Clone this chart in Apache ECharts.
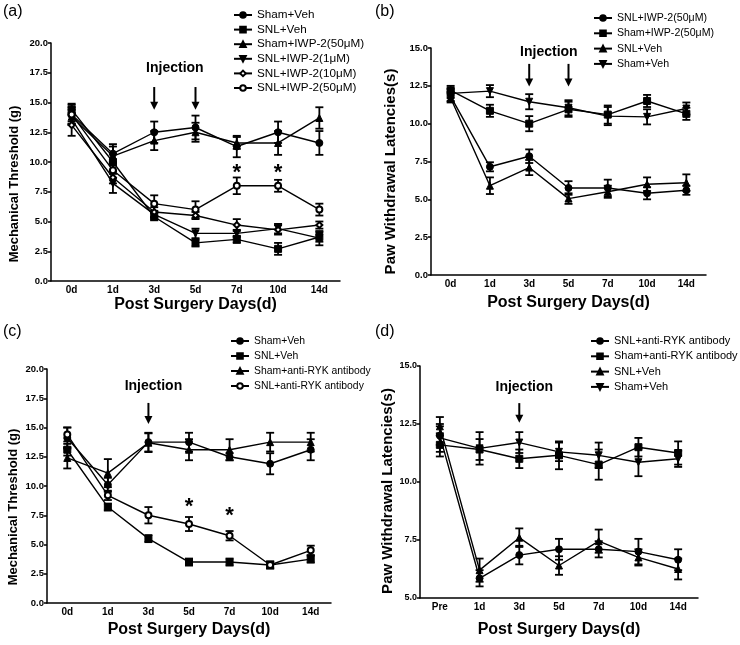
<!DOCTYPE html>
<html><head><meta charset="utf-8">
<script src="https://cdn.jsdelivr.net/npm/echarts@6/dist/echarts.min.js"></script>
<style>html,body{margin:0;padding:0;background:#fff}#c{width:740px;height:645px}</style>
</head><body><div id="c"></div>
<script>
// ---------- categories ----------
const daysAB = ['0d','1d','3d','5d','7d','10d','14d'];
const daysC  = ['0d','1d','3d','5d','7d','10d','14d'];
const daysD  = ['Pre','1d','3d','5d','7d','10d','14d'];
// ---------- panel (a) : Mechanical Threshold (g) ----------
const a_shamVeh      = [14.0,10.7,12.5,12.9,11.3,12.5,11.6];
const a_shamVeh_e    = [0.8,0.8,0.9,1.0,0.9,0.9,1.0];
const a_snlVeh       = [14.4,10.0,5.4,3.2,3.5,2.7,3.7];
const a_snlVeh_e     = [0.5,0.7,0.3,0.3,0.3,0.5,0.4];
const a_shamIwp50    = [13.8,10.5,11.8,12.5,11.6,11.6,13.7];
const a_shamIwp50_e  = [0.6,0.8,0.8,0.8,0.5,1.0,0.9];
const a_snlIwp1      = [13.6,8.2,5.6,4.0,4.0,4.4,3.6];
const a_snlIwp1_e    = [0.5,0.8,0.3,0.4,0.3,0.4,0.6];
const a_snlIwp10     = [13.1,8.7,5.8,5.5,4.7,4.3,4.7];
const a_snlIwp10_e   = [0.9,0.5,0.4,0.3,0.5,0.4,0.3];
const a_snlIwp50     = [14.0,9.3,6.5,6.0,8.0,8.0,6.0];
const a_snlIwp50_e   = [0.6,0.7,0.7,0.7,0.7,0.5,0.5];
// ---------- panel (b) : Paw Withdrawal Latencies(s) ----------
const b_snlIwp50     = [11.8,7.15,7.85,5.75,5.75,5.4,5.6];
const b_snlIwp50_e   = [0.3,0.3,0.45,0.45,0.55,0.4,0.3];
const b_shamIwp50    = [12.2,10.85,10.0,10.95,10.6,11.5,10.65];
const b_shamIwp50_e  = [0.3,0.4,0.5,0.5,0.6,0.4,0.4];
const b_snlVeh       = [11.7,5.9,7.1,5.05,5.5,6.0,6.1];
const b_snlVeh_e     = [0.3,0.55,0.5,0.35,0.4,0.45,0.55];
const b_shamVeh      = [12.0,12.15,11.45,11.05,10.5,10.45,11.0];
const b_shamVeh_e    = [0.3,0.4,0.5,0.5,0.6,0.5,0.4];
// ---------- panel (c) : Mechanical Threshold (g) ----------
const c_shamVeh      = [14.1,10.1,13.75,13.75,12.5,11.9,13.1];
const c_shamVeh_e    = [0.9,0.6,0.8,0.8,0.3,0.9,0.9];
const c_snlVeh       = [13.1,8.2,5.5,3.5,3.5,3.25,3.75];
const c_snlVeh_e     = [0.5,0.3,0.3,0.3,0.3,0.3,0.3];
const c_shamRyk      = [12.4,11.1,13.7,13.1,13.1,13.75,13.75];
const c_shamRyk_e    = [0.9,1.2,0.8,0.9,0.9,0.8,0.8];
const c_snlRyk       = [14.4,9.2,7.5,6.75,5.75,3.25,4.5];
const c_snlRyk_e     = [0.6,0.4,0.7,0.6,0.4,0.3,0.4];
// ---------- panel (d) : Paw Withdrawal Latencies(s) ----------
const d_snlRyk       = [12.0,5.85,6.85,7.1,7.1,7.0,6.65];
const d_snlRyk_e     = [0.4,0.35,0.4,0.45,0.35,0.55,0.45];
const d_shamRyk      = [11.6,11.4,11.0,11.15,10.75,11.5,11.25];
const d_shamRyk_e    = [0.5,0.45,0.4,0.6,0.65,0.4,0.5];
const d_snlVeh       = [12.4,6.2,7.6,6.4,7.45,6.75,6.25];
const d_snlVeh_e     = [0.4,0.5,0.4,0.4,0.5,0.35,0.45];
const d_shamVeh      = [11.9,11.45,11.7,11.3,11.15,10.85,11.0];
const d_shamVeh_e    = [0.6,0.7,0.45,0.4,0.55,0.6,0.35];

const FONT = '"Liberation Sans", Arial, sans-serif';
const chart = echarts.init(document.getElementById('c'));

function lineS(panel, name, gi, vals, symbol, rotate) {
  const empty = symbol.indexOf('empty') === 0;
  return {
    type: 'line', name: panel + '|' + name, xAxisIndex: gi, yAxisIndex: gi,
    data: vals, symbol: symbol, symbolSize: empty ? 6 : 7,
    symbolRotate: rotate || 0, showAllSymbol: true, z: 4,
    lineStyle: { color: '#000', width: 1.4 },
    itemStyle: { color: '#000', borderColor: '#000', borderWidth: empty ? 1.6 : 1 },
    emphasis: { disabled: true }, animation: false
  };
}
function errS(gi, vals, errs) {
  return {
    type: 'custom', xAxisIndex: gi, yAxisIndex: gi, silent: true, z: 3, animation: false,
    encode: { x: 0, y: [1, 2] },
    data: vals.map((v, i) => [i, v - errs[i], v + errs[i]]),
    renderItem: function (params, api) {
      const lo = api.coord([api.value(0), api.value(1)]);
      const hi = api.coord([api.value(0), api.value(2)]);
      const w = 4;
      const st = { stroke: '#000', lineWidth: 1.8 };
      return { type: 'group', children: [
        { type: 'line', shape: { x1: lo[0], y1: lo[1], x2: hi[0], y2: hi[1] }, style: st },
        { type: 'line', shape: { x1: lo[0] - w, y1: lo[1], x2: lo[0] + w, y2: lo[1] }, style: st },
        { type: 'line', shape: { x1: hi[0] - w, y1: hi[1], x2: hi[0] + w, y2: hi[1] }, style: st }
      ]};
    }
  };
}
function xAx(gi, cats, gap) {
  return {
    type: 'category', gridIndex: gi, data: cats, boundaryGap: true,
    name: 'Post Surgery Days(d)', nameLocation: 'middle', nameGap: gap,
    nameTextStyle: { fontFamily: FONT, fontWeight: 'bold', fontSize: 16, color: '#000' },
    axisLine: { lineStyle: { color: '#000', width: 1.5 } },
    axisTick: { alignWithLabel: true, length: 3, lineStyle: { color: '#000', width: 1.5 } },
    axisLabel: { fontFamily: FONT, fontWeight: 'bold', fontSize: 10, color: '#000', margin: 4 },
    splitLine: { show: false }
  };
}
function yAx(gi, name, min, max, gap, fs, lfs, shift) {
  return {
    type: 'value', gridIndex: gi, min: min, max: max, interval: 2.5,
    name: name, nameLocation: 'middle', nameGap: gap,
    nameTextStyle: { fontFamily: FONT, fontWeight: 'bold', fontSize: fs, color: '#000',
                     padding: [0, 2 * shift, 0, 0] },
    axisLine: { show: true, lineStyle: { color: '#000', width: 1.5 } },
    axisTick: { show: true, length: 3, lineStyle: { color: '#000', width: 1.5 } },
    axisLabel: { fontFamily: FONT, fontWeight: 'bold', fontSize: lfs, color: '#000', margin: 3,
                 formatter: v => v.toFixed(1) },
    splitLine: { show: false }
  };
}
function leg(left, top, fs, gap, names) {
  return {
    orient: 'vertical', left: left, top: top, itemWidth: 18, itemHeight: 7, itemGap: gap,
    selectedMode: false, data: names, formatter: n => n.split('|')[1],
    textStyle: { fontFamily: FONT, fontSize: fs, color: '#000', lineHeight: 12 },
    padding: 0
  };
}

const series = [
  // (a)
  errS(0, a_shamVeh, a_shamVeh_e), errS(0, a_snlVeh, a_snlVeh_e), errS(0, a_shamIwp50, a_shamIwp50_e),
  errS(0, a_snlIwp1, a_snlIwp1_e), errS(0, a_snlIwp10, a_snlIwp10_e), errS(0, a_snlIwp50, a_snlIwp50_e),
  lineS('a','Sham+Veh',0,a_shamVeh,'circle'),
  lineS('a','SNL+Veh',0,a_snlVeh,'rect'),
  lineS('a','Sham+IWP-2(50μM)',0,a_shamIwp50,'triangle'),
  lineS('a','SNL+IWP-2(1μM)',0,a_snlIwp1,'triangle',180),
  lineS('a','SNL+IWP-2(10μM)',0,a_snlIwp10,'emptyDiamond'),
  lineS('a','SNL+IWP-2(50μM)',0,a_snlIwp50,'emptyCircle'),
  // (b)
  errS(1, b_snlIwp50, b_snlIwp50_e), errS(1, b_shamIwp50, b_shamIwp50_e),
  errS(1, b_snlVeh, b_snlVeh_e), errS(1, b_shamVeh, b_shamVeh_e),
  lineS('b','SNL+IWP-2(50μM)',1,b_snlIwp50,'circle'),
  lineS('b','Sham+IWP-2(50μM)',1,b_shamIwp50,'rect'),
  lineS('b','SNL+Veh',1,b_snlVeh,'triangle'),
  lineS('b','Sham+Veh',1,b_shamVeh,'triangle',180),
  // (c)
  errS(2, c_shamVeh, c_shamVeh_e), errS(2, c_snlVeh, c_snlVeh_e),
  errS(2, c_shamRyk, c_shamRyk_e), errS(2, c_snlRyk, c_snlRyk_e),
  lineS('c','Sham+Veh',2,c_shamVeh,'circle'),
  lineS('c','SNL+Veh',2,c_snlVeh,'rect'),
  lineS('c','Sham+anti-RYK antibody',2,c_shamRyk,'triangle'),
  lineS('c','SNL+anti-RYK antibody',2,c_snlRyk,'emptyCircle'),
  // (d)
  errS(3, d_snlRyk, d_snlRyk_e), errS(3, d_shamRyk, d_shamRyk_e),
  errS(3, d_snlVeh, d_snlVeh_e), errS(3, d_shamVeh, d_shamVeh_e),
  lineS('d','SNL+anti-RYK antibody',3,d_snlRyk,'circle'),
  lineS('d','Sham+anti-RYK antibody',3,d_shamRyk,'rect'),
  lineS('d','SNL+Veh',3,d_snlVeh,'triangle'),
  lineS('d','Sham+Veh',3,d_shamVeh,'triangle',180)
];

const option = {
  animation: false,
  backgroundColor: '#fff',
  grid: [
    { left: 51,  top: 43,  width: 289, height: 238 },
    { left: 431, top: 48,  width: 275, height: 227 },
    { left: 47,  top: 369, width: 284, height: 234 },
    { left: 420, top: 366, width: 278, height: 232 }
  ],
  xAxis: [ xAx(0, daysAB, 16), xAx(1, daysAB, 20), xAx(2, daysC, 19), xAx(3, daysD, 24) ],
  yAxis: [
    yAx(0, 'Mechanical Threshold (g)', 0, 20, 30, 13, 9.5, 22),
    yAx(1, 'Paw Withdrawal Latencies(s)', 0, 15, 33, 15, 9.5, 10),
    yAx(2, 'Mechanical Threshold (g)', 0, 20, 27, 13, 9.5, 21),
    yAx(3, 'Paw Withdrawal Latencies(s)', 5, 15, 23, 15, 9, 9)
  ],
  legend: [
    leg(233, 9, 11.7, 2.6, ['a|Sham+Veh','a|SNL+Veh','a|Sham+IWP-2(50μM)','a|SNL+IWP-2(1μM)','a|SNL+IWP-2(10μM)','a|SNL+IWP-2(50μM)']),
    leg(593, 12, 10.6, 3.3, ['b|SNL+IWP-2(50μM)','b|Sham+IWP-2(50μM)','b|SNL+Veh','b|Sham+Veh']),
    leg(230, 335, 10.4, 3.0, ['c|Sham+Veh','c|SNL+Veh','c|Sham+anti-RYK antibody','c|SNL+anti-RYK antibody']),
    leg(590, 335, 11.0, 3.3, ['d|SNL+anti-RYK antibody','d|Sham+anti-RYK antibody','d|SNL+Veh','d|Sham+Veh'])
  ],
  series: series
};
chart.setOption(option);

// ---------- annotations (placed through the axes' own scales) ----------
const injection = [
  { gi: 0, arrows: ['3d','5d'], top: 16.3, bot: 14.4, textY: 17.9, textCats: ['3d','5d'] },
  { gi: 1, arrows: ['3d','5d'], top: 13.95, bot: 12.45, textY: 14.7, textCats: ['3d','5d'] },
  { gi: 2, arrows: ['3d'], top: 17.1, bot: 15.3, textY: 18.5, textCats: ['3d'] },
  { gi: 3, arrows: ['3d'], top: 13.4, bot: 12.55, textY: 14.08, textCats: ['3d'] }
];
const stars = [ { gi: 0, cat: '7d', v: 9.5 }, { gi: 0, cat: '10d', v: 9.5 },
                { gi: 2, cat: '5d', v: 8.6 }, { gi: 2, cat: '7d', v: 7.86 } ];
const panelLabels = [ ['(a)', 3, 4], ['(b)', 375, 4], ['(c)', 3, 324], ['(d)', 375, 324] ];

const g = [];
function px(gi, cat, v) { return chart.convertToPixel({ xAxisIndex: gi, yAxisIndex: gi }, [cat, v]); }
injection.forEach(it => {
  it.arrows.forEach(cat => {
    const p1 = px(it.gi, cat, it.top), p2 = px(it.gi, cat, it.bot);
    g.push({ type: 'line', shape: { x1: p1[0], y1: p1[1], x2: p2[0], y2: p2[1] - 6 }, style: { stroke: '#000', lineWidth: 2 } });
    g.push({ type: 'polygon', shape: { points: [[p2[0] - 4, p2[1] - 8], [p2[0] + 4, p2[1] - 8], [p2[0], p2[1]]] }, style: { fill: '#000' } });
  });
  const xs = it.textCats.map(c => px(it.gi, c, it.textY)[0]);
  let cx = xs.reduce((s, x) => s + x, 0) / xs.length;
  if (xs.length === 1) cx += 5;
  const cy = px(it.gi, it.textCats[0], it.textY)[1];
  g.push({ type: 'text', x: cx, y: cy, style: { text: 'Injection', font: 'bold 14px ' + FONT, fill: '#000', align: 'center', verticalAlign: 'middle' } });
});
stars.forEach(s => {
  const p = px(s.gi, s.cat, s.v);
  g.push({ type: 'text', x: p[0], y: p[1] + 5, style: { text: '*', font: 'bold 22px ' + FONT, fill: '#000', align: 'center', verticalAlign: 'middle' } });
});
panelLabels.forEach(l => {
  g.push({ type: 'text', x: l[1], y: l[2], style: { text: l[0], font: '16px ' + FONT, fill: '#000', align: 'left', verticalAlign: 'top' } });
});
chart.setOption({ graphic: g });
</script></body></html>
